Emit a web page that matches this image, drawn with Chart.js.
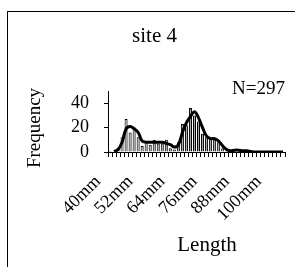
<!DOCTYPE html>
<html>
<head>
<meta charset="utf-8">
<script src="https://cdn.jsdelivr.net/npm/chart.js@4.4.0/dist/chart.umd.min.js"></script>
<style>
html, body { margin: 0; padding: 0; background: #fff; overflow: hidden; }
#wrap { position: relative; width: 295px; height: 267px; }
#frame { position: absolute; left: 7px; top: 11px; width: 400px; height: 400px; border: 1px solid #000; }
#c { position: absolute; left: 0; top: 0; }
</style>
</head>
<body>
<div id="wrap">
  <div id="frame"></div>
  <canvas id="c" width="295" height="267"></canvas>
</div>
<script>
// length classes (mm), one per bar
const categories = ['40mm','41.5mm','43mm','44.5mm','46mm','47.5mm','49mm','50.5mm','52mm','53.5mm',
  '55mm','56.5mm','58mm','59.5mm','61mm','62.5mm','64mm','65.5mm','67mm','68.5mm',
  '70mm','71.5mm','73mm','74.5mm','76mm','77.5mm','79mm','80.5mm','82mm','83.5mm',
  '85mm','86.5mm','88mm','89.5mm','91mm','92.5mm','94mm','95.5mm','97mm','98.5mm',
  '100mm','101.5mm','103mm','104.5mm'];

// frequency per class
const counts = [1, 0, 3, 12, 27, 16, 20, 12, 5, 9,
  6, 10, 7, 7, 10, 3, 2, 8, 23, 22,
  36, 30, 25, 15, 12, 11, 10, 8, 3, 1,
  1, 2, 1, 1, 1, 0, 0, 0, 0, 0,
  0, 0, 0, 0];

// smoothed trend line
const trend = [null, 0.5, 2, 8, 19, 21, 19, 16, 9, 8,
  8, 8, 8, 8, 7, 6, 4, 6, 16, 24,
  29, 33, 28, 20, 13, 11, 11, 9, 5, 2,
  1, 1.5, 1.5, 1, 1, 0.5, 0, 0, 0, 0,
  0, 0, 0, 0];

// labels shown under the axis
const shownTicks = ['40mm', '52mm', '64mm', '76mm', '88mm', '100mm'];

const serif = 'Liberation Serif, Times New Roman, serif';

// N label and axis titles, placed against the plot area
const extraText = {
  id: 'extraText',
  afterDraw(chart) {
    const ctx = chart.ctx, a = chart.chartArea;
    ctx.save();
    ctx.fillStyle = '#000';
    ctx.textBaseline = 'alphabetic';
    ctx.textAlign = 'right';
    ctx.font = '19px ' + serif;
    ctx.fillText('N=297', a.right, a.top + 3);

    ctx.textAlign = 'center';
    ctx.textBaseline = 'middle';
    ctx.font = '21px ' + serif;
    ctx.fillText('Length', a.left + 99, a.bottom + 93);

    ctx.translate(35, a.top + 37);
    ctx.rotate(-Math.PI / 2);
    ctx.font = '19px ' + serif;
    ctx.fillText('Frequency', 0, 0);
    ctx.restore();
  }
};

new Chart(document.getElementById('c'), {
  data: {
    labels: categories,
    datasets: [{
      type: 'line',
      data: trend,
      borderColor: '#000',
      borderWidth: 3,
      pointRadius: 0,
      tension: 0.4,
      fill: false,
      order: 0
    }, {
      type: 'bar',
      data: counts,
      backgroundColor: '#a8a8a8',
      borderColor: '#000',
      borderWidth: 1,
      barPercentage: 0.75,
      categoryPercentage: 1,
      order: 1
    }]
  },
  options: {
    responsive: false,
    animation: false,
    layout: { padding: { left: 24, right: 10, top: 0, bottom: 0 } },
    plugins: {
      legend: { display: false },
      tooltip: { enabled: false },
      title: {
        display: true,
        text: 'site 4',
        color: '#000',
        font: { family: serif, size: 21, weight: 'normal' },
        padding: { top: 24, bottom: 41.8 }
      }
    },
    scales: {
      x: {
        afterFit: (s) => { s.height = 115; s.paddingLeft = 0; s.paddingRight = 0; },
        grid: { display: true, drawOnChartArea: false, drawTicks: true, tickLength: 5, color: '#000', offset: true },
        border: { display: true, color: '#000', width: 1 },
        ticks: {
          autoSkip: false,
          minRotation: 45,
          maxRotation: 45,
          padding: 14,
          labelOffset: -12,
          color: '#000',
          font: { family: serif, size: 18 },
          callback: function (v) {
            const l = this.getLabelForValue(v);
            return shownTicks.includes(l) ? l : '';
          }
        }
      },
      y: {
        min: 0,
        max: 50,
        afterFit: (s) => { s.width = 84; s.paddingTop = 0; s.paddingBottom = 0; },
        grid: { display: true, drawOnChartArea: false, drawTicks: true, tickLength: 4, color: '#000' },
        border: { display: true, color: '#000', width: 1 },
        ticks: {
          stepSize: 20,
          includeBounds: false,
          autoSkip: false,
          padding: 15,
          color: '#000',
          font: { family: serif, size: 18 }
        }
      }
    }
  },
  plugins: [extraText]
});
</script>
</body>
</html>
